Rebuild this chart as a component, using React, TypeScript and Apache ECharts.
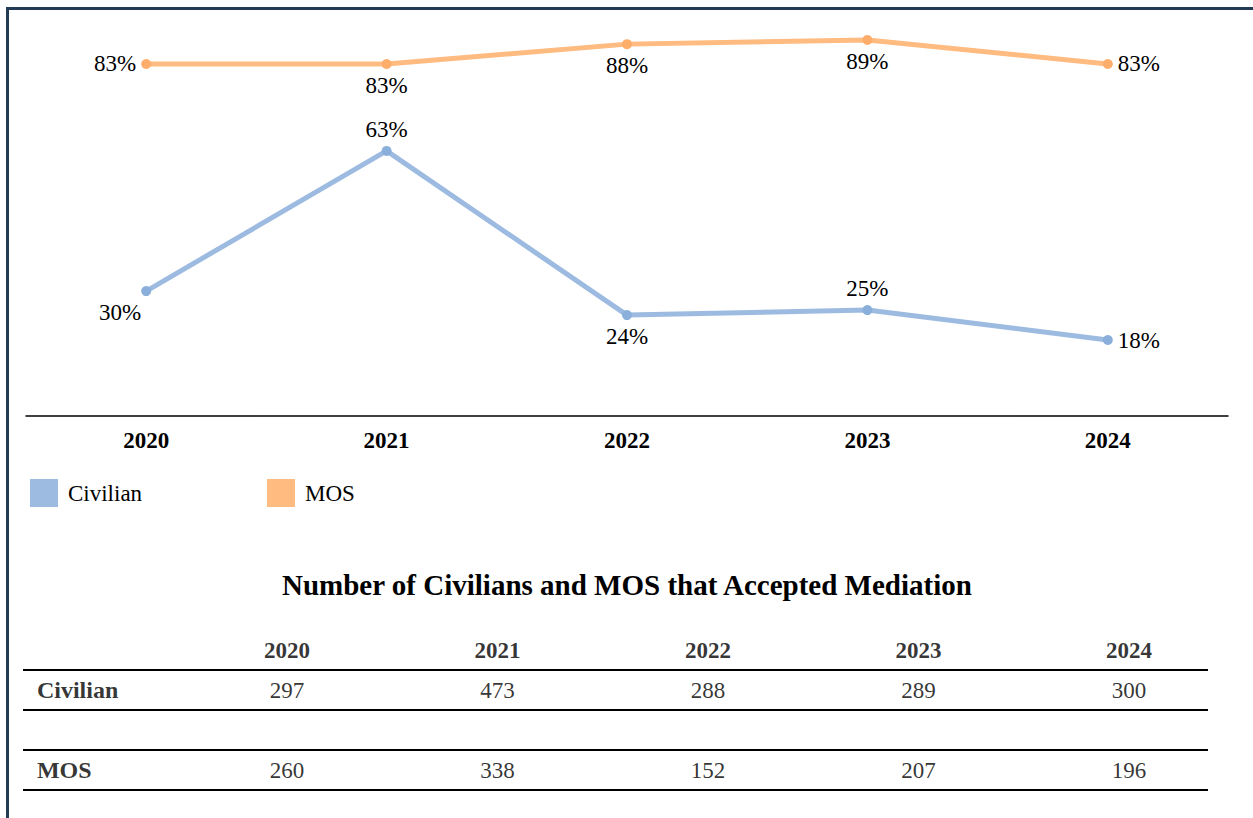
import React, { useEffect, useRef } from "react";
import * as echarts from "echarts";

const years = ["2020", "2021", "2022", "2023", "2024"];
const civilianPct = [29.6, 62.8, 23.9, 25.1, 18.0];
const mosPct = [83.4, 83.4, 88.1, 89.1, 83.4];
const civilianCount = [297, 473, 288, 289, 300];
const mosCount = [260, 338, 152, 207, 196];
const rowLabels = ["Civilian", "MOS"];
const tableTitle = "Number of Civilians and MOS that Accepted Mediation";

const FONT = "Liberation Serif";
const FS = 23;
const BLUE = "#9dbbe0";
const BLUE_DOT = "#8aafda";
const ORANGE = "#ffbb80";
const ORANGE_DOT = "#ffad6b";

// label placement per point
const civPos = ["bottom", "top", "bottom", "top", "right"];
const civOff = [[-26, 0], [0, 0], [0, 0], [0, 0], [0, 0]];
const mosPos = ["left", "bottom", "bottom", "bottom", "right"];

export default function App() {
  const ref = useRef<HTMLDivElement>(null);
  useEffect(() => {
    if (!ref.current) return;
    const chart = echarts.init(ref.current, null, { renderer: "svg" });
    const seriesLabel = {
      show: true,
      distance: 5,
      color: "#000",
      fontFamily: FONT,
      fontSize: FS,
      formatter: (p: any) => Math.round(p.value) + "%",
    };
    const colIdx = years.map((_, i) => i);
    const legendBase = {
      icon: "rect",
      itemWidth: 28,
      itemHeight: 28,
      padding: 0,
      textStyle: { fontFamily: FONT, fontSize: FS, color: "#000", padding: [0, 0, 0, 5] },
    };
    const option: any = {
      animation: false,
      backgroundColor: "#fff",
      textStyle: { fontFamily: FONT },
      title: {
        text: tableTitle,
        left: 282,
        top: 570,
        padding: 0,
        textStyle: { fontFamily: FONT, fontSize: 29, fontWeight: "bold", color: "#000" },
      },
      legend: [
        {
          ...legendBase,
          data: [{ name: "Civilian", itemStyle: { color: BLUE } }],
          left: 30,
          top: 479,
        },
        {
          ...legendBase,
          data: [{ name: "MOS", itemStyle: { color: ORANGE } }],
          left: 267,
          top: 479,
        },
      ],
      graphic: [
        {
          type: "rect",
          silent: true,
          shape: { x: 7.5, y: 8.5, width: 1400, height: 1000 },
          style: { fill: "none", stroke: "#233b55", lineWidth: 3 },
        },
      ],
      grid: [
        { left: 26, width: 1202, top: 15, height: 401 },
        { left: 23, width: 1185, top: 630, height: 160 },
      ],
      xAxis: [
        {
          gridIndex: 0,
          type: "category",
          data: years,
          boundaryGap: true,
          axisLine: { show: true, lineStyle: { color: "#000", width: 1.5 } },
          axisTick: { show: false },
          axisLabel: { margin: 13, color: "#000", fontFamily: FONT, fontSize: FS, fontWeight: "bold" },
        },
        { gridIndex: 1, type: "value", min: -1.254, max: 4.375, show: false },
      ],
      yAxis: [
        { gridIndex: 0, type: "value", min: 0, max: 95, show: false },
        {
          gridIndex: 1,
          type: "value",
          min: 0,
          max: 4,
          interval: 1,
          axisLine: { show: false },
          axisTick: { show: false },
          axisLabel: { show: false },
          splitLine: { show: true, showMaxLine: false, lineStyle: { color: "#000", width: 2 } },
        },
      ],
      series: [
        {
          name: "Civilian",
          type: "line",
          xAxisIndex: 0,
          yAxisIndex: 0,
          label: seriesLabel,
          data: civilianPct.map((v, i) => ({ value: v, label: { position: civPos[i], offset: civOff[i] } })),
          color: BLUE,
          lineStyle: { color: BLUE, width: 5 },
          itemStyle: { color: BLUE_DOT },
          symbol: "circle",
          symbolSize: 10,
        },
        {
          name: "MOS",
          type: "line",
          xAxisIndex: 0,
          yAxisIndex: 0,
          label: seriesLabel,
          data: mosPct.map((v, i) => ({ value: v, label: { position: mosPos[i] } })),
          color: ORANGE,
          lineStyle: { color: ORANGE, width: 5 },
          itemStyle: { color: ORANGE_DOT },
          symbol: "circle",
          symbolSize: 10,
        },
        {
          name: "header",
          type: "scatter",
          xAxisIndex: 1,
          yAxisIndex: 1,
          silent: true,
          symbolSize: 0,
          data: colIdx.map((i) => [i, 3.5, years[i]]),
          label: { show: true, position: "inside", formatter: (p: any) => p.value[2], color: "#000", fontFamily: FONT, fontSize: FS, fontWeight: "bold" },
        },
        {
          name: "civCount",
          type: "scatter",
          xAxisIndex: 1,
          yAxisIndex: 1,
          silent: true,
          symbolSize: 0,
          data: colIdx.map((i) => [i, 2.5, civilianCount[i]]),
          label: { show: true, position: "inside", formatter: (p: any) => String(p.value[2]), color: "#000", fontFamily: FONT, fontSize: FS },
        },
        {
          name: "mosCount",
          type: "scatter",
          xAxisIndex: 1,
          yAxisIndex: 1,
          silent: true,
          symbolSize: 0,
          data: colIdx.map((i) => [i, 0.5, mosCount[i]]),
          label: { show: true, position: "inside", formatter: (p: any) => String(p.value[2]), color: "#000", fontFamily: FONT, fontSize: FS },
        },
        {
          name: "rowLabels",
          type: "scatter",
          xAxisIndex: 1,
          yAxisIndex: 1,
          silent: true,
          symbolSize: 0,
          data: [
            [-1.188, 2.5, rowLabels[0]],
            [-1.188, 0.5, rowLabels[1]],
          ],
          label: { show: true, position: "right", distance: 0, formatter: (p: any) => p.value[2], color: "#000", fontFamily: FONT, fontSize: 24, fontWeight: "bold" },
        },
      ],
    };
    chart.setOption(option);
    return () => chart.dispose();
  }, []);
  return <div ref={ref} style={{ position: "fixed", left: 0, top: 0, width: 1253, height: 818 }} />;
}
